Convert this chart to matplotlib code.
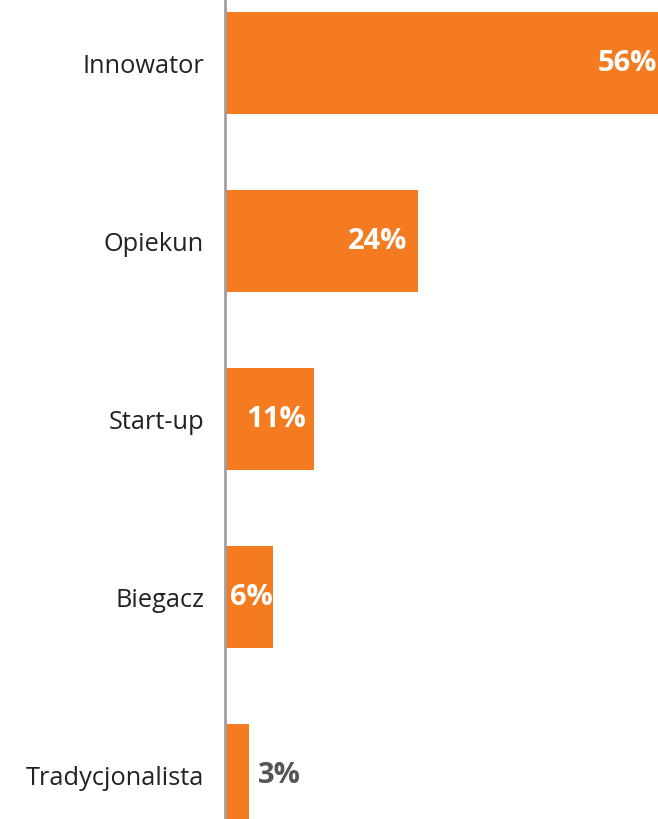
import matplotlib
matplotlib.use("Agg")
import matplotlib.pyplot as plt

categories = ["Innowator", "Opiekun", "Start-up", "Biegacz", "Tradycjonalista"]
values = [56, 24, 11, 6, 3]
labels = ["56%", "24%", "11%", "6%", "3%"]

ORANGE = "#F47B20"
plt.rcParams["font.family"] = ["Open Sans", "DejaVu Sans"]

fig = plt.figure(figsize=(6.58, 8.19), dpi=100)
ax = fig.add_axes([225 / 658, 0, 1 - 225 / 658, 1])

pos = list(range(len(categories)))
ax.barh(pos, values, height=0.573, color=ORANGE, edgecolor="none", zorder=2)

ax.set_xlim(0, 53.8)
ax.set_ylim(4.247, -0.354)

for s in ["top", "right", "bottom"]:
    ax.spines[s].set_visible(False)
ax.spines["left"].set_color("#A0A0A0")
ax.spines["left"].set_linewidth(2.0)
ax.spines["left"].set_zorder(3)

ax.set_xticks([])
ax.set_yticks(pos)
ax.set_yticklabels(categories, fontsize=18.3, color="#222222")
ax.tick_params(axis="y", length=0, pad=15)

# horizontal offsets (points) of the value labels from the bar ends
inside_offsets = [-13.5, -8, -5.5, -0.5]
for p, v, lab in zip(pos, values, labels):
    if v >= 5:
        ax.annotate(lab, (v, p), xytext=(inside_offsets[p], 0),
                    textcoords="offset points",
                    ha="right", va="center", fontsize=21, fontweight="bold",
                    color="white", zorder=4, annotation_clip=False)
    else:
        ax.annotate(lab, (v, p), xytext=(6, 0), textcoords="offset points",
                    ha="left", va="center", fontsize=21, fontweight="bold",
                    color="#555555", zorder=4)

fig.savefig("out.png", dpi=100, facecolor="white")
